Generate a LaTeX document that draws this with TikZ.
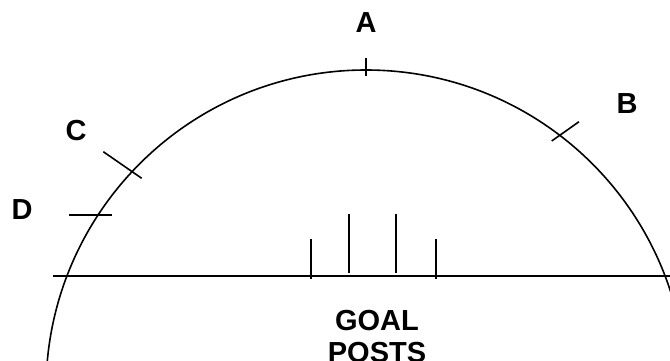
\documentclass[tikz,border=0pt]{standalone}
\usepackage{fontspec}
\setmainfont{Liberation Sans}
\tikzset{lbl/.style={font=\bfseries\fontsize{29}{32}\selectfont,inner sep=0pt,align=center}}
\begin{document}
\begin{tikzpicture}[x=1pt,y=1pt,line width=1.6pt]
\clip (0,0) rectangle (670,-361);
\draw (366,-390) circle[radius=320];
\draw (53,-276) -- (670,-276);
\draw (311,-239) -- (311,-279);
\draw (349,-214) -- (349,-273);
\draw (396,-214) -- (396,-273);
\draw (436,-239) -- (436,-279);
\draw (366,-58) -- (366,-76);
\draw (551.7,-141) -- (579,-121.7);
\draw (103.3,-151.7) -- (141.7,-178.3);
\draw (69,-215) -- (112,-215);
\node[lbl] (a) at (366,-23) {A};
\node[lbl] (b) at (627,-104) {B};
\node[lbl] (c) at (76,-131) {C};
\node[lbl] (d) at (22,-210) {D};
\node[lbl] (goal) at (377,-336.5) {GOAL\\POSTS};
\end{tikzpicture}
\end{document}
